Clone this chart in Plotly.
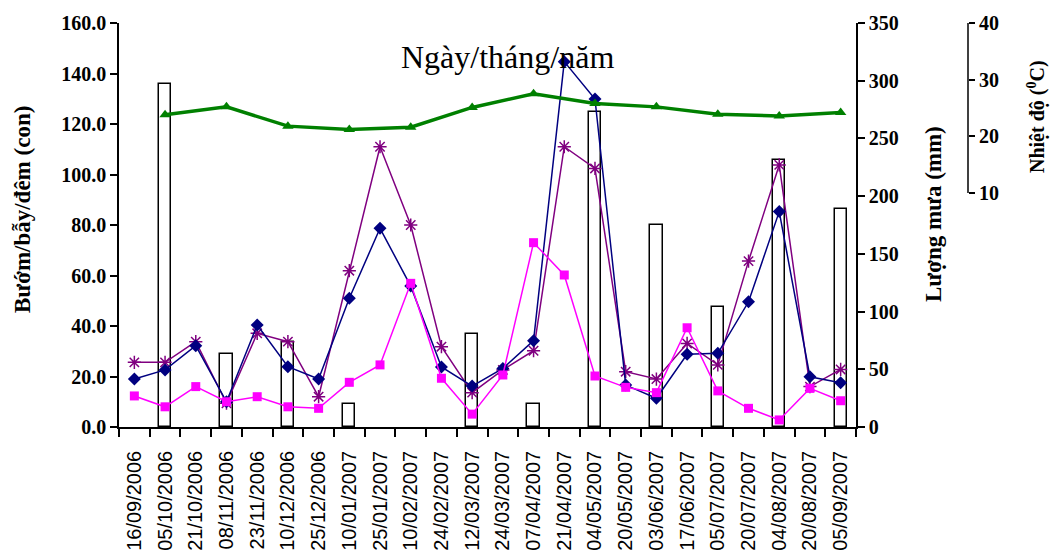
import plotly.graph_objects as go

dates = ["16/09/2006", "05/10/2006", "21/10/2006", "08/11/2006", "23/11/2006", "10/12/2006",
         "25/12/2006", "10/01/2007", "25/01/2007", "10/02/2007", "24/02/2007", "12/03/2007",
         "24/03/2007", "07/04/2007", "21/04/2007", "04/05/2007", "20/05/2007", "03/06/2007",
         "17/06/2007", "05/07/2007", "20/07/2007", "04/08/2007", "20/08/2007", "05/09/2007"]

blue_counts = [19.0, 22.6, 32.2, 10.0, 40.4, 23.9, 19.0, 51.0, 78.7, 55.8, 23.8, 16.2,
               23.2, 34.2, 144.7, 129.9, 16.6, 11.4, 28.8, 29.2, 49.6, 85.3, 19.9, 17.5]
purple_counts = [25.6, 25.6, 33.8, 9.4, 37.1, 33.8, 12.0, 61.9, 111.0, 80.0, 31.8, 13.6,
                 22.6, 30.2, 111.0, 102.4, 21.9, 19.0, 33.1, 24.6, 65.7, 103.8, 16.0, 22.8]
magenta_counts = [12.3, 8.0, 16.0, 10.0, 12.0, 8.0, 7.4, 17.7, 24.6, 56.9, 19.3, 5.1,
                  20.6, 73.0, 60.2, 20.2, 15.7, 13.6, 39.3, 14.3, 7.4, 2.8, 15.3, 10.4]
rainfall_mm = [None, 297, None, 63, None, 74, None, 20, None, None, None, 81,
               None, 20, None, 273, None, 175, None, 104, None, 231, None, 189]
temperature_c = [None, 23.8, None, 25.2, None, 21.8, None, 21.2, None, 21.6, None, 25.1,
                 None, 27.5, None, 25.8, None, 25.2, None, 23.9, None, 23.6, None, 24.2]

left_ticks = [0, 20, 40, 60, 80, 100, 120, 140, 160]
rain_ticks = [0, 50, 100, 150, 200, 250, 300, 350]
temp_ticks = [10, 20, 30, 40]

SERIF = "Liberation Serif"
SANS = "Liberation Sans"

# geometry (pixels)
W, H = 1051, 555
L, T, B, R = 119, 23, 128, 50
plot_w = 737
paper_w = W - L - R
paper_h = H - T - B
x_dom = plot_w / paper_w
temp_axis_px = 968
temp_pos = (temp_axis_px - L) / paper_w
# temperature axis: 10..40 occupies pixel rows 193..23
temp_per_px = 30 / 170
temp_min = 10 - (427 - 193) * temp_per_px

fig = go.Figure()

fig.add_trace(go.Bar(
    x=dates, y=rainfall_mm, yaxis="y", width=0.4,
    marker=dict(color="white", line=dict(color="black", width=1.5)),
    showlegend=False, name="Lượng mưa"))

fig.add_trace(go.Scatter(
    x=dates, y=purple_counts, yaxis="y2", mode="lines+markers",
    line=dict(color="#800080", width=1.5),
    marker=dict(symbol="asterisk-open", size=11, line=dict(color="#800080", width=1.5)),
    showlegend=False))
fig.add_trace(go.Scatter(
    x=dates, y=blue_counts, yaxis="y2", mode="lines+markers",
    line=dict(color="#000080", width=1.5),
    marker=dict(symbol="diamond", size=10, color="#000080"),
    showlegend=False))
fig.add_trace(go.Scatter(
    x=dates, y=magenta_counts, yaxis="y2", mode="lines+markers",
    line=dict(color="#FF00FF", width=1.5),
    marker=dict(symbol="square", size=9, color="#FF00FF"),
    showlegend=False))
fig.add_trace(go.Scatter(
    x=dates, y=temperature_c, yaxis="y3", mode="lines+markers", connectgaps=True,
    line=dict(color="#008000", width=3.5),
    marker=dict(symbol="triangle-up", size=10, color="#008000"),
    showlegend=False))

tickfont_b = dict(family=SERIF, size=20, color="black", weight="bold")

fig.update_layout(
    width=W, height=H,
    margin=dict(l=L, r=R, t=T, b=B, pad=0, autoexpand=False),
    paper_bgcolor="white", plot_bgcolor="white",
    bargap=0,
    xaxis=dict(
        domain=[0, x_dom], type="category", range=[-0.5, len(dates) - 0.5], showgrid=False,
        automargin=False,
        showline=True, linecolor="black", linewidth=1.5,
        ticks="outside", tickson="boundaries", ticklen=8, tickwidth=1.5, tickcolor="black",
        tickangle=-90, ticklabelstandoff=14,
        tickfont=dict(family=SANS, size=20, color="black")),
    yaxis=dict(
        side="right", range=[0, 350], tickvals=rain_ticks, showgrid=False, zeroline=False,
        automargin=False,
        showline=True, linecolor="black", linewidth=1.5,
        ticks="outside", ticklen=7, tickwidth=1.5, tickcolor="black",
        tickfont=tickfont_b),
    yaxis2=dict(
        overlaying="y", side="left", range=[0, 160], tickvals=left_ticks, tickformat=".1f",
        showgrid=False, zeroline=False, automargin=False,
        showline=True, linecolor="black", linewidth=1.5,
        ticks="outside", ticklen=7, tickwidth=1.5, tickcolor="black",
        tickfont=tickfont_b),
    yaxis3=dict(
        overlaying="y", anchor="free", position=temp_pos, side="right",
        range=[temp_min, 40], tickvals=temp_ticks, showgrid=False, zeroline=False,
        automargin=False,
        showline=False, ticks="outside", ticklen=6, tickwidth=1.5, tickcolor="black",
        tickfont=tickfont_b),
)

fig.add_shape(type="line", xref="paper", yref="y3", x0=temp_pos, x1=temp_pos,
              y0=10, y1=40, line=dict(color="black", width=1.5))

def px_x(px):
    return (px - L) / paper_w

def px_y(py):
    return (H - B - py) / paper_h

fig.add_annotation(text="Ngày/tháng/năm", x=px_x(507), y=px_y(57), xref="paper", yref="paper",
                   showarrow=False, xanchor="center", yanchor="middle",
                   font=dict(family=SERIF, size=32, color="black"))
fig.add_annotation(text="Bướm/bẫy/đêm (con)", x=px_x(22), y=px_y(210), xref="paper", yref="paper",
                   showarrow=False, textangle=-90, xanchor="center", yanchor="middle",
                   font=dict(family=SERIF, size=23, color="black", weight="bold"))
fig.add_annotation(text="Lượng mưa (mm)", x=px_x(933), y=px_y(214), xref="paper", yref="paper",
                   showarrow=False, textangle=-90, xanchor="center", yanchor="middle",
                   font=dict(family=SERIF, size=23, color="black", weight="bold"))
fig.add_annotation(text="Nhiệt độ (<sup>0</sup>C)", x=px_x(1036), y=px_y(117), xref="paper", yref="paper",
                   showarrow=False, textangle=-90, xanchor="center", yanchor="middle",
                   font=dict(family=SERIF, size=20, color="black", weight="bold"))

fig.write_html("out.html")
